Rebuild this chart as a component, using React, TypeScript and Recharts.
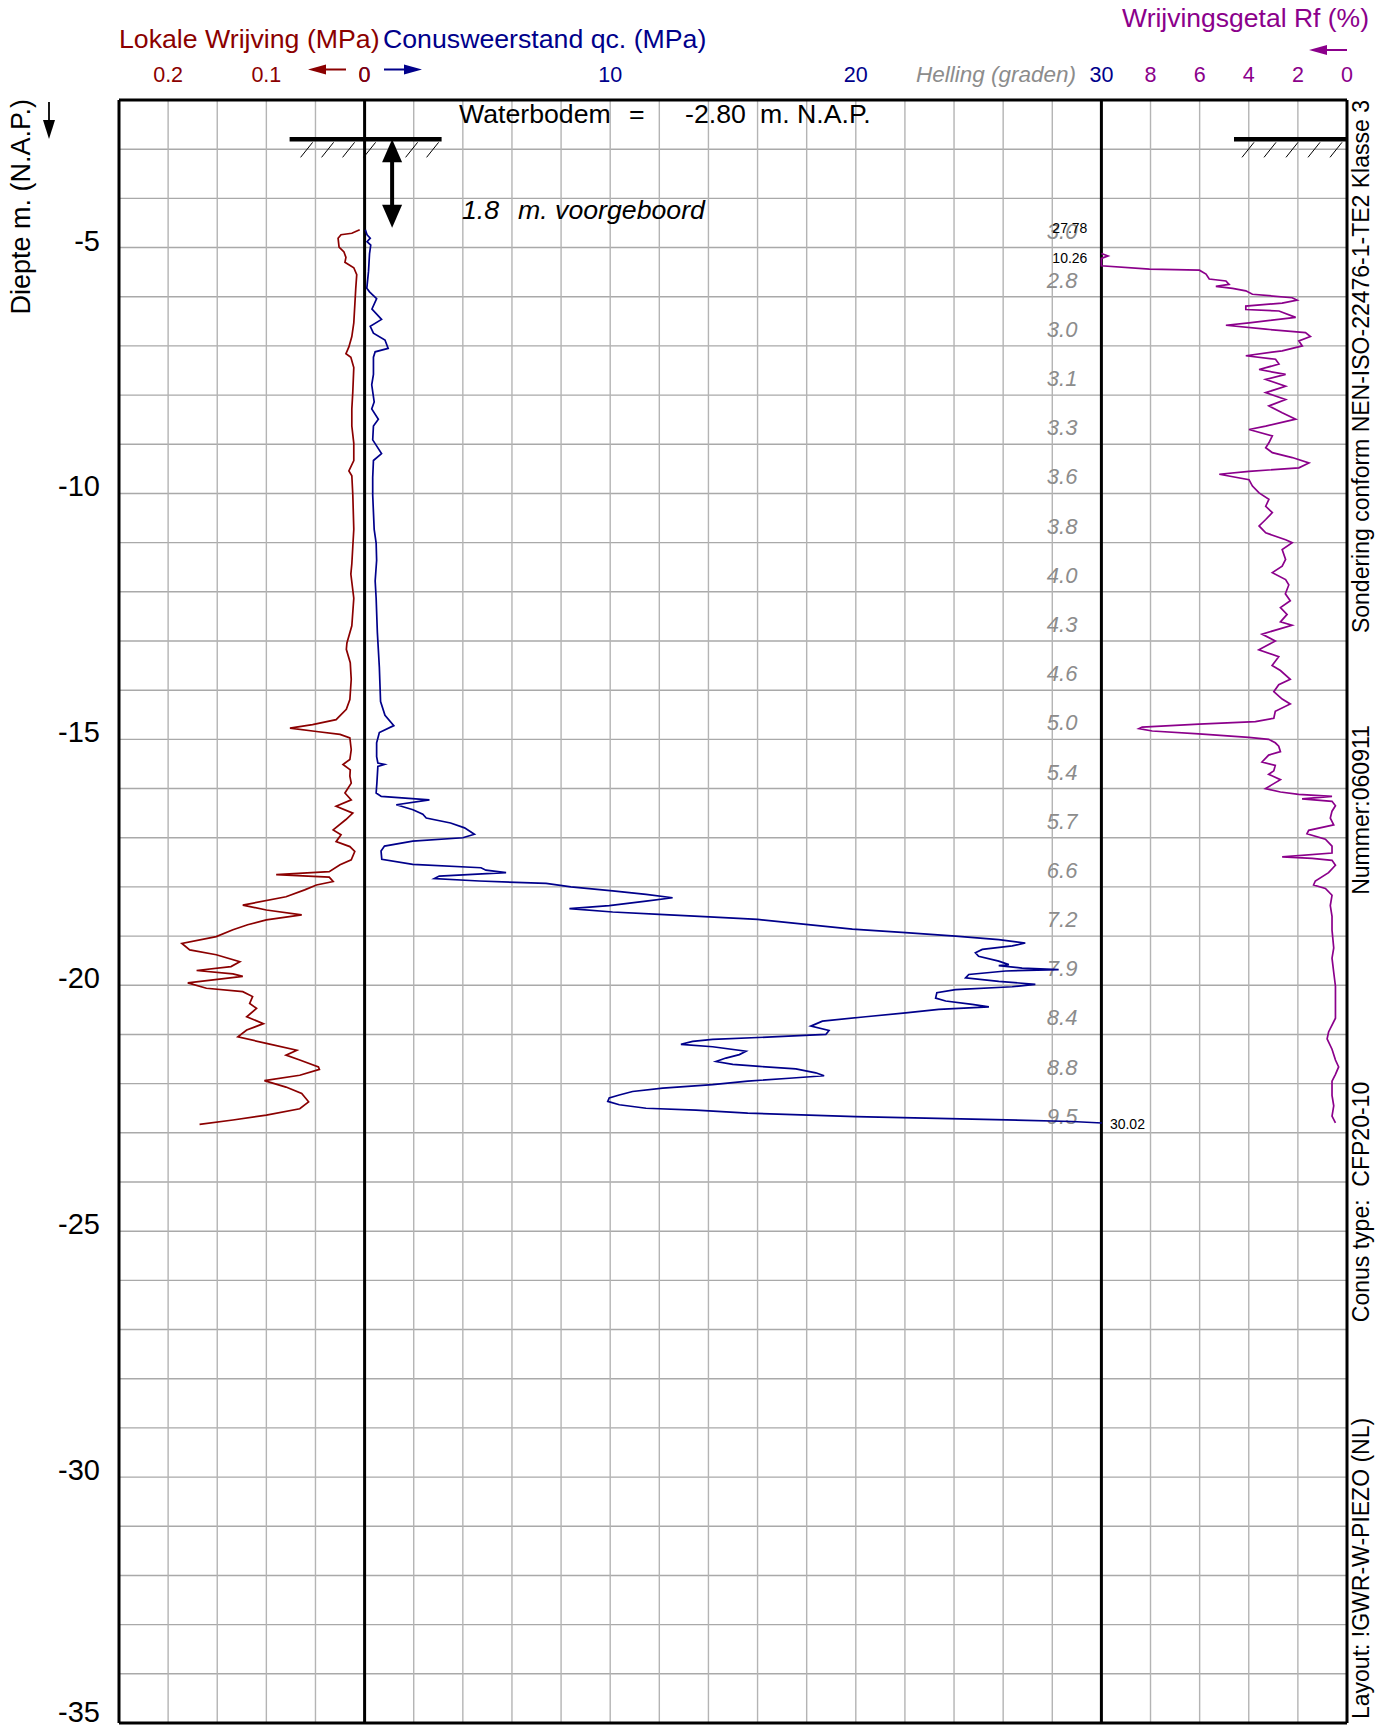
import React from 'react';
import { ComposedChart, XAxis, YAxis, Scatter, ReferenceLine, ReferenceDot } from 'recharts';

const FONT = '"Liberation Sans", Arial, Helvetica, sans-serif';
const RED = '#8B0000';
const BLUE = '#00008B';
const PURPLE = '#8B008B';
const GREY = '#8c8c8c';

// ---- axes / ticks ----
const DEPTH_TICKS = [-5, -10, -15, -20, -25, -30, -35];
const GRID_DEPTHS = [-3, -4, -5, -6, -7, -8, -9, -10, -11, -12, -13, -14, -15, -16, -17, -18, -19, -20, -21, -22, -23, -24, -25, -26, -27, -28, -29, -30, -31, -32, -33, -34];
const GRID_QC = [-8, -6, -4, -2, 2, 4, 6, 8, 10, 12, 14, 16, 18, 20, 22, 24, 26, 28, 32, 34, 36, 38];
const FRAME_QC = [-10, 0, 30, 40];
const FRAME_DEPTHS = [-2, -35];
const TOP_DEPTH = -2;
const FS_TICKS = [0.2, 0.1, 0];
const QC_TICKS = [0, 10, 20, 30];
const RF_TICKS = [8, 6, 4, 2, 0];

// ---- Helling (inclination) column ----
const HELLING_DEPTHS = [-5, -6, -7, -8, -9, -10, -11, -12, -13, -14, -15, -16, -17, -18, -19, -20, -21, -22, -23];
const HELLING_VALUES = ['3.0', '2.8', '3.0', '3.1', '3.3', '3.6', '3.8', '4.0', '4.3', '4.6', '5.0', '5.4', '5.7', '6.6', '7.2', '7.9', '8.4', '8.8', '9.5'];
const HELLING_COLUMN_QC = 28.4;

// ---- Conusweerstand qc (MPa) ----
const QC_DEPTH = [-4.64, -4.74, -4.81, -4.88, -4.95, -5.13, -5.48, -5.83, -5.9, -6.04, -6.25, -6.46, -6.6, -6.74, -6.88, -7.05, -7.12, -7.23, -7.58, -7.79, -8.14, -8.28, -8.49, -8.63, -8.91, -9.19, -9.33, -9.68, -10.03, -10.38, -10.73, -11.01, -11.36, -11.78, -12.13, -12.83, -13.53, -14.23, -14.51, -14.72, -14.86, -15.07, -15.35,
  -15.48, -15.51, -15.55, -15.89, -16.09, -16.16, -16.23, -16.33, -16.43, -16.52, -16.6, -16.7, -16.8, -16.93, -17.0, -17.07, -17.17, -17.27, -17.44, -17.54, -17.61, -17.66, -17.71, -17.78, -17.83, -17.88, -17.93, -18.0, -18.08, -18.15, -18.22, -18.29, -18.38, -18.44, -18.51, -18.56, -18.61, -18.66, -18.76, -18.86, -18.93, -19.0, -19.07, -19.14, -19.2, -19.27, -19.34, -19.41, -19.51, -19.58, -19.6, -19.65, -19.68, -19.71, -19.78, -19.85, -19.92, -19.98, -20.03, -20.09, -20.15, -20.26, -20.32, -20.39, -20.44, -20.49, -20.56, -20.64, -20.73, -20.83, -20.92, -21.0, -21.05, -21.1, -21.14, -21.2, -21.25, -21.34, -21.41, -21.48, -21.55, -21.61, -21.65, -21.7, -21.78, -21.84, -21.89, -21.95, -22.02, -22.09, -22.16, -22.23, -22.29, -22.36, -22.43, -22.5, -22.54, -22.6, -22.67, -22.72, -22.77, -22.8];
const QC_VALUES = [0.03, 0.1, 0.23, 0.1, 0.25, 0.2, 0.16, 0.09, 0.2, 0.49, 0.3, 0.69, 0.23, 0.36, 0.83, 0.96, 0.43, 0.36, 0.36, 0.29, 0.39, 0.29, 0.56, 0.36, 0.33, 0.69, 0.36, 0.33, 0.33, 0.36, 0.39, 0.47, 0.49, 0.43, 0.47, 0.52, 0.6, 0.65, 0.83, 1.19, 0.6, 0.49, 0.49,
  0.54, 0.81, 0.54, 0.5, 0.47, 0.68, 2.64, 1.29, 1.97, 2.37, 2.51, 3.5, 4.07, 4.47, 4.0, 1.96, 0.81, 0.67, 0.7, 1.96, 4.74, 4.94, 5.76, 3.04, 2.84, 4.67, 7.39, 8.4, 10.1, 11.46, 12.54, 11.46, 9.96, 8.34, 10.1, 12.0, 14.04, 16.0, 17.96, 19.86, 22.03, 24.06, 25.82, 26.9, 26.37, 25.15, 24.87, 25.0, 25.82, 26.23, 25.82, 26.77, 28.26, 26.1, 24.6, 24.47, 25.82, 27.31, 26.37, 24.06, 23.3, 23.25, 23.66, 24.74, 25.42, 23.38, 22.03, 20.4, 18.64, 18.17, 18.91, 18.78, 16.6, 14.17, 13.36, 12.88, 14.17, 15.53, 15.26, 14.71, 14.31, 14.99, 16.07, 17.56, 18.37, 18.71, 17.29, 15.6, 14.17, 12.14, 10.91, 10.37, 9.96, 9.9, 10.37, 11.46, 13.49, 15.6, 20.0, 24.74, 28.8, 30.02];

// ---- Lokale wrijving fs (MPa) ----
const FS_DEPTH = [-4.64, -4.71, -4.74, -4.81, -4.99, -5.09, -5.2, -5.3, -5.41, -5.55, -5.83, -6.18, -6.53, -6.81, -7.02, -7.16, -7.23, -7.44, -7.93, -8.28, -8.63, -8.98, -9.33, -9.54, -9.64, -10.03, -10.73, -11.08, -11.43, -11.64, -12.13, -12.69, -13.04, -13.17, -13.44, -13.78, -14.19, -14.39, -14.6, -14.7, -14.77, -14.84, -14.9, -14.97, -15.21, -15.41, -15.51, -15.62, -15.75, -15.89, -16.09, -16.23, -16.36, -16.5, -16.63, -16.84, -16.94, -17.08, -17.18, -17.28, -17.45, -17.55, -17.69, -17.75, -17.8, -17.89, -17.96, -18.06, -18.2, -18.37, -18.47, -18.57, -18.67, -18.77, -18.87, -19.01, -19.15, -19.28, -19.38, -19.52, -19.62, -19.7, -19.77, -19.82, -19.95, -20.06, -20.13, -20.23, -20.37, -20.47, -20.64, -20.78, -20.91, -21.05, -21.18, -21.32, -21.42, -21.52, -21.66, -21.71, -21.83, -21.94, -22.07, -22.2, -22.37, -22.51, -22.64, -22.74, -22.83];
const FS_VALUES = [0.005, 0.013, 0.024, 0.027, 0.026, 0.021, 0.019, 0.02, 0.011, 0.008, 0.009, 0.01, 0.011, 0.013, 0.016, 0.019, 0.014, 0.011, 0.012, 0.013, 0.013, 0.011, 0.011, 0.016, 0.013, 0.012, 0.011, 0.012, 0.013, 0.014, 0.011, 0.013, 0.018, 0.0186, 0.0146, 0.0136, 0.015, 0.0186, 0.029, 0.053, 0.076, 0.049, 0.025, 0.015, 0.0136, 0.015, 0.022, 0.0146, 0.015, 0.0136, 0.02, 0.0136, 0.029, 0.012, 0.019, 0.032, 0.024, 0.029, 0.015, 0.01, 0.0136, 0.025, 0.036, 0.09, 0.036, 0.032, 0.049, 0.061, 0.08, 0.124, 0.1, 0.064, 0.1, 0.119, 0.134, 0.151, 0.186, 0.178, 0.151, 0.127, 0.136, 0.171, 0.134, 0.124, 0.18, 0.161, 0.124, 0.114, 0.117, 0.11, 0.12, 0.103, 0.12, 0.129, 0.1, 0.069, 0.08, 0.066, 0.047, 0.046, 0.066, 0.102, 0.08, 0.064, 0.057, 0.066, 0.1, 0.134, 0.168];

// ---- Wrijvingsgetal Rf (%), clipped at the 10 % column edge ----
const RF_DEPTH = [-5.12, -5.17, -5.22, -5.37, -5.44, -5.46, -5.54, -5.64, -5.68, -5.75, -5.79, -5.83, -5.88, -5.95, -6.02, -6.07, -6.13, -6.19, -6.26, -6.29, -6.42, -6.53, -6.58, -6.66, -6.73, -6.81, -6.9, -7.0, -7.1, -7.2, -7.27, -7.37, -7.48, -7.58, -7.68, -7.82, -7.95, -8.09, -8.22, -8.36, -8.49, -8.63, -8.7, -8.83, -8.97, -9.07, -9.17, -9.27, -9.38, -9.48, -9.55, -9.61, -9.72, -9.85, -9.99, -10.12, -10.26, -10.39, -10.53, -10.66, -10.8, -10.94, -11.0, -11.14, -11.34, -11.48, -11.61, -11.75, -11.86, -12.04, -12.18, -12.32, -12.46, -12.61, -12.68, -12.86, -13.0, -13.18, -13.32, -13.5, -13.6, -13.78, -13.89, -14.03, -14.18, -14.28, -14.43, -14.57, -14.64, -14.69, -14.75, -14.78, -14.83, -14.89, -14.96, -15.0, -15.07, -15.14, -15.25, -15.32, -15.46, -15.53, -15.64, -15.71, -15.82, -15.92, -16.0, -16.07, -16.12, -16.16, -16.21, -16.26, -16.35, -16.46, -16.6, -16.74, -16.85, -16.92, -17.03, -17.17, -17.31, -17.39, -17.42, -17.46, -17.56, -17.71, -17.88, -17.96, -18.03, -18.17, -18.38, -18.6, -18.88, -19.24, -19.45, -19.74, -20.02, -20.31, -20.67, -20.95, -21.09, -21.3, -21.52, -21.66, -21.81, -21.95, -22.24, -22.45, -22.66, -22.8];
const RF_VALUES = [10, 9.73, 10, 10, 8.04, 6.01, 5.74, 5.61, 4.93, 4.8, 5.34, 4.66, 4.12, 3.85, 2.23, 2.03, 2.64, 4.12, 4.12, 2.77, 2.09, 3.99, 4.93, 3.31, 1.69, 1.49, 1.96, 1.82, 2.64, 4.12, 2.91, 2.77, 3.58, 2.5, 3.31, 2.5, 3.31, 2.5, 3.18, 2.64, 2.09, 3.31, 3.99, 3.04, 3.18, 3.31, 3.04, 2.23, 1.55, 1.96, 3.99, 5.2, 3.99, 3.85, 3.58, 3.18, 3.31, 3.04, 3.31, 3.58, 3.31, 2.5, 2.23, 2.64, 2.5, 2.64, 3.04, 2.5, 2.37, 2.51, 2.31, 2.71, 2.44, 2.71, 2.24, 3.46, 2.92, 3.59, 2.78, 3.05, 2.71, 2.31, 2.78, 2.98, 2.64, 2.31, 2.92, 2.98, 3.73, 6.03, 8.34, 8.47, 7.93, 6.03, 4.0, 3.19, 2.92, 2.78, 2.71, 3.19, 3.46, 2.92, 2.98, 3.19, 2.71, 3.05, 3.32, 2.71, 1.97, 0.61, 1.83, 0.61, 0.47, 0.61, 0.68, 0.54, 1.56, 1.63, 0.88, 0.61, 0.61, 2.64, 1.42, 0.61, 0.47, 0.75, 1.29, 1.36, 0.88, 0.61, 0.68, 0.61, 0.61, 0.54, 0.61, 0.54, 0.47, 0.47, 0.47, 0.75, 0.81, 0.61, 0.47, 0.34, 0.47, 0.61, 0.61, 0.54, 0.61, 0.47];

// ---- annotation values ----
const WATERBODEM_DEPTH = -2.8;
const VOORBOORD_END_DEPTH = -4.6;
const VOORBOORD_ARROW_QC = 1.12;
const RF_OVERFLOW = [{ d: -4.6, label: '27.78' }, { d: -5.21, label: '10.26' }];
const QC_END = { d: -22.8, v: 30.02, label: '30.02' };

const toPts = (depths: number[], values: number[]) => depths.map((d, i) => ({ d, v: values[i] }));
const qcData = toPts(QC_DEPTH, QC_VALUES);
const fsData = toPts(FS_DEPTH, FS_VALUES);
const rfData = toPts(RF_DEPTH, RF_VALUES);

const NoDot = () => <g />;

const topLabel = (color: string, value: number) => (p: any) => (
  <text x={p.cx} y={p.cy - 18} textAnchor="middle" fill={color} fontSize={21.5} fontFamily={FONT}>
    {String(value)}
  </text>
);

const DepthTick = (p: any) => (
  <text x={100} y={p.y + (p.payload.value === -35 ? -1 : 3)} textAnchor="end" fill="#000" fontSize={29} fontFamily={FONT}>
    {String(p.payload.value)}
  </text>
);

const Ground = (hatchTops: number[], x0: number, x1: number) => (p: any) => (
  <g>
    <line x1={p.cx + x0} x2={p.cx + x1} y1={p.cy} y2={p.cy} stroke="#000" strokeWidth={4.5} />
    {hatchTops.map((o, i) => (
      <line key={i} x1={p.cx + o} y1={p.cy + 3} x2={p.cx + o - 12} y2={p.cy + 18} stroke="#000" strokeWidth={1} />
    ))}
  </g>
);

const ArrowUp = (p: any) => (
  <polygon points={`${p.cx},${p.cy} ${p.cx - 10},${p.cy + 23} ${p.cx + 10},${p.cy + 23}`} fill="#000" />
);
const ArrowDown = (p: any) => (
  <polygon points={`${p.cx},${p.cy} ${p.cx - 10},${p.cy - 23} ${p.cx + 10},${p.cy - 23}`} fill="#000" />
);

export default function App() {
  const W = 1387;
  const H = 1727;
  return (
    <div style={{ position: 'absolute', left: 0, top: 0, width: W, height: H, background: '#fff', fontFamily: FONT }}>
      <ComposedChart width={W} height={H} margin={{ top: 100, right: 40, bottom: 4, left: 0 }}>
        <YAxis yAxisId="d" dataKey="d" type="number" domain={[-35, -2]} allowDataOverflow ticks={DEPTH_TICKS} interval={0}
          width={119} axisLine={false} tickLine={false} tick={DepthTick} />
        <XAxis xAxisId="qc" dataKey="v" type="number" domain={[-10, 40]} allowDataOverflow hide />
        <XAxis xAxisId="fs" dataKey="v" type="number" domain={[-1.0, 0.25]} reversed allowDataOverflow hide />
        <XAxis xAxisId="rf" dataKey="v" type="number" domain={[0, 50]} reversed allowDataOverflow hide />

        {GRID_DEPTHS.map((d) => (
          <ReferenceLine key={'gd' + d} xAxisId="qc" yAxisId="d" y={d} stroke="#a9a9a9" strokeWidth={1.4} />
        ))}
        {GRID_QC.map((q) => (
          <ReferenceLine key={'gq' + q} xAxisId="qc" yAxisId="d" x={q} stroke="#b4b4b4" strokeWidth={1.4} />
        ))}
        {FRAME_QC.map((q) => (
          <ReferenceLine key={'fq' + q} xAxisId="qc" yAxisId="d" x={q} stroke="#000" strokeWidth={3} />
        ))}
        {FRAME_DEPTHS.map((d) => (
          <ReferenceLine key={'fd' + d} xAxisId="qc" yAxisId="d" y={d} stroke="#000" strokeWidth={3} />
        ))}

        {/* top tick labels of the three horizontal scales */}
        {QC_TICKS.map((t) => (
          <ReferenceDot key={'tq' + t} xAxisId="qc" yAxisId="d" x={t} y={TOP_DEPTH} r={0} shape={topLabel(BLUE, t)} />
        ))}
        {FS_TICKS.map((t) => (
          <ReferenceDot key={'tf' + t} xAxisId="fs" yAxisId="d" x={t} y={TOP_DEPTH} r={0} shape={topLabel(RED, t)} />
        ))}
        {RF_TICKS.map((t) => (
          <ReferenceDot key={'tr' + t} xAxisId="rf" yAxisId="d" x={t} y={TOP_DEPTH} r={0} shape={topLabel(PURPLE, t)} />
        ))}

        {HELLING_DEPTHS.map((d, i) => (
          <ReferenceDot key={'h' + d} xAxisId="qc" yAxisId="d" x={HELLING_COLUMN_QC} y={d} r={0}
            shape={(p: any) => (
              <text x={p.cx} y={p.cy - 9} textAnchor="middle" fill={GREY} fontSize={22} fontStyle="italic" fontFamily={FONT}>
                {HELLING_VALUES[i]}
              </text>
            )} />
        ))}

        {/* ground level (waterbodem) symbols and pre-drilled interval */}
        <ReferenceDot xAxisId="qc" yAxisId="d" x={0} y={WATERBODEM_DEPTH} r={0}
          shape={Ground([-52, -31, -10, 11, 53, 74], -75, 77)} />
        <ReferenceDot xAxisId="rf" yAxisId="d" x={0} y={WATERBODEM_DEPTH} r={0}
          shape={Ground([-93, -71, -49, -27, -5], -113, 0)} />
        <ReferenceLine xAxisId="qc" yAxisId="d" stroke="#000" strokeWidth={4}
          segment={[{ x: VOORBOORD_ARROW_QC, y: WATERBODEM_DEPTH - 0.3 }, { x: VOORBOORD_ARROW_QC, y: VOORBOORD_END_DEPTH + 0.3 }]} />
        <ReferenceDot xAxisId="qc" yAxisId="d" x={VOORBOORD_ARROW_QC} y={WATERBODEM_DEPTH} r={0} shape={ArrowUp} />
        <ReferenceDot xAxisId="qc" yAxisId="d" x={VOORBOORD_ARROW_QC} y={VOORBOORD_END_DEPTH} r={0} shape={ArrowDown} />

        <Scatter name="fs" xAxisId="fs" yAxisId="d" data={fsData} line={{ stroke: RED, strokeWidth: 1.7 }} shape={NoDot} isAnimationActive={false} />
        <Scatter name="qc" xAxisId="qc" yAxisId="d" data={qcData} line={{ stroke: BLUE, strokeWidth: 1.7 }} shape={NoDot} isAnimationActive={false} />
        <Scatter name="rf" xAxisId="rf" yAxisId="d" data={rfData} line={{ stroke: PURPLE, strokeWidth: 1.7 }} shape={NoDot} isAnimationActive={false} />

        {RF_OVERFLOW.map((o) => (
          <ReferenceDot key={o.label} xAxisId="rf" yAxisId="d" x={10} y={o.d} r={0}
            shape={(p: any) => (
              <text x={p.cx - 14} y={p.cy + 5} textAnchor="end" fill="#000" fontSize={14} fontFamily={FONT}>{o.label}</text>
            )} />
        ))}
        <ReferenceDot xAxisId="qc" yAxisId="d" x={QC_END.v} y={QC_END.d} r={0}
          shape={(p: any) => (
            <text x={p.cx + 8} y={p.cy + 6} textAnchor="start" fill="#000" fontSize={14} fontFamily={FONT}>{QC_END.label}</text>
          )} />
      </ComposedChart>

      <svg width={W} height={H} style={{ position: 'absolute', left: 0, top: 0, pointerEvents: 'none' }} fontFamily={FONT}>
        {/* titles */}
        <text x={119} y={48} fill={RED} fontSize={26.7}>Lokale Wrijving (MPa)</text>
        <text x={383} y={48} fill={BLUE} fontSize={26.7}>Conusweerstand qc. (MPa)</text>
        <text x={1369} y={27} fill={PURPLE} fontSize={26.5} textAnchor="end">Wrijvingsgetal Rf (%)</text>
        <text x={1076} y={82} fill={GREY} fontSize={22.5} fontStyle="italic" textAnchor="end">Helling (graden)</text>

        {/* direction arrows */}
        <line x1={346} y1={69.5} x2={320} y2={69.5} stroke={RED} strokeWidth={2} />
        <polygon points="308,69.5 326,64.5 326,74.5" fill={RED} />
        <line x1={384} y1={69.5} x2={410} y2={69.5} stroke={BLUE} strokeWidth={2} />
        <polygon points="422,69.5 404,64.5 404,74.5" fill={BLUE} />
        <line x1={1347} y1={50} x2={1320} y2={50} stroke={PURPLE} strokeWidth={2} />
        <polygon points="1309,50 1327,45 1327,55" fill={PURPLE} />

        {/* left axis title */}
        <text transform="translate(30,99) rotate(-90)" textAnchor="end" fontSize={27} fill="#000">Diepte m. (N.A.P.)</text>
        <line x1={49} y1={102} x2={49} y2={124} stroke="#000" strokeWidth={1.8} />
        <polygon points="49,139 43,120 55,120" fill="#000" />

        {/* info inside plot */}
        <text x={459} y={123} fontSize={26.7} fill="#000">Waterbodem</text>
        <text x={629} y={123} fontSize={26.7} fill="#000">=</text>
        <text x={685} y={123} fontSize={26.7} fill="#000">-2.80</text>
        <text x={760} y={123} fontSize={26.7} fill="#000">m. N.A.P.</text>
        <text x={462} y={219} fontSize={26.7} fill="#000" fontStyle="italic">1.8</text>
        <text x={518} y={219} fontSize={26.7} fill="#000" fontStyle="italic">m. voorgeboord</text>

        {/* right side vertical texts */}
        <text transform="translate(1369,100) rotate(-90)" textAnchor="end" fontSize={23} fill="#000">Sondering  conform  NEN-ISO-22476-1-TE2  Klasse 3</text>
        <text transform="translate(1369,810) rotate(-90)" textAnchor="middle" fontSize={23} fill="#000">Nummer:060911</text>
        <text transform="translate(1369,1202) rotate(-90)" textAnchor="middle" fontSize={23} fill="#000" style={{ whiteSpace: 'pre' }}>Conus type:  CFP20-10</text>
        <text transform="translate(1369,1719) rotate(-90)" textAnchor="start" fontSize={23} fill="#000">Layout: !GWR-W-PIEZO (NL)</text>
      </svg>
    </div>
  );
}
